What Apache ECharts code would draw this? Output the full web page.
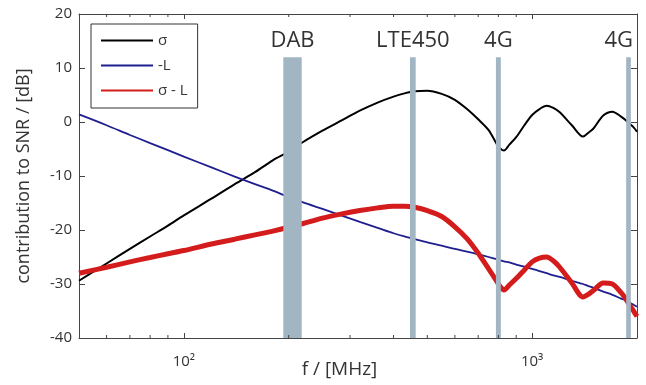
<!DOCTYPE html>
<html>
<head>
<meta charset="utf-8">
<script src="https://cdn.jsdelivr.net/npm/echarts@6/dist/echarts.min.js"></script>
<style>
  html, body { margin: 0; background: #fff; }
  #main { width: 646px; height: 385px; }
</style>
</head>
<body>
<div id="main"></div>
<script>
// frequencies in MHz
var freq = [50, 60, 70, 80, 90, 100, 120, 140, 160, 180, 200, 220, 250, 280, 320, 360, 400, 430, 460, 500,
  550, 600, 650, 700, 750, 790, 810, 830, 860, 900, 950, 1000, 1050, 1100, 1150, 1200, 1300, 1400, 1450, 1500,
  1600, 1700, 1800, 1850, 1900, 1950, 2000]
// sigma (black)
var sigma = [-29.4, -26.2, -23.5, -21.2, -19.2, -17.3, -14.2, -11.5, -9.3, -7.1, -5.5, -3.7, -1.6, 0.1, 2.1, 3.6, 4.7, 5.3, 5.7, 5.8,
  5.2, 4.1, 2.4, 0.5, -1.5, -4.0, -4.9, -5.3, -4.2, -2.8, -0.6, 1.3, 2.4, 3.0, 2.6, 1.8, -0.6, -2.7, -2.0, -1.2,
  1.2, 1.9, 1.0, 0.4, -0.3, -0.9, -1.8]
// -L (blue)
var loss = [1.4, -0.6, -2.4, -3.9, -5.2, -6.4, -8.4, -10.1, -11.5, -12.7, -13.9, -14.9, -16.1, -17.2, -18.5, -19.6, -20.6, -21.2, -21.7, -22.3,
  -22.9, -23.5, -24.0, -24.5, -25.0, -25.4, -25.6, -25.8, -26.0, -26.4, -26.8, -27.2, -27.6, -28.0, -28.4, -28.7, -29.4, -30.0, -30.4, -30.7,
  -31.4, -32.0, -32.7, -33.0, -33.4, -33.8, -34.2]
// sigma - L (red)
var snr = [-28.0, -26.9, -25.9, -25.1, -24.4, -23.8, -22.6, -21.7, -20.9, -20.2, -19.5, -18.8, -17.8, -17.1, -16.4, -15.9, -15.6, -15.6, -15.8, -16.4,
  -17.5, -19.4, -21.6, -24.3, -27.2, -29.4, -30.5, -31.1, -30.2, -29.0, -27.4, -25.9, -25.2, -25.0, -25.7, -26.9, -29.8, -32.4, -31.9, -31.2,
  -29.8, -30.0, -31.6, -32.6, -33.8, -34.9, -36.0]

// frequency bands
var bandNames = ['DAB', 'LTE450', '4G', '4G']
var bandFrom = [193, 446, 787, 1862]
var bandTo = [218, 463, 813, 1920]
var bandTop = 12

var minorTicks = [60, 70, 80, 90, 200, 300, 400, 500, 600, 700, 800, 900]
var yMin = -40
var yMax = 20

function pairs(ys) {
  return freq.map(function (f, i) { return [f, ys[i]] })
}

var font = '"Open Sans", "Noto Sans", sans-serif'
var axisColor = '#444'

var chart = echarts.init(document.getElementById('main'))

var option = {
  animation: false,
  grid: { left: 79, right: 9, top: 14, bottom: 47, outerBoundsMode: 'none' },
  legend: {
    data: ['σ', '-L', 'σ - L'],
    orient: 'vertical',
    left: 91,
    top: 24,
    itemWidth: 52,
    itemHeight: 14,
    itemGap: 10,
    padding: [9, 10, 10, 9],
    borderColor: '#333',
    borderWidth: 1,
    backgroundColor: '#fff',
    itemStyle: { opacity: 0 },
    textStyle: { fontFamily: font, fontSize: 15, color: '#333' }
  },
  xAxis: [{
    type: 'log',
    logBase: 10,
    min: 50,
    max: 2000,
    position: 'bottom',
    axisLine: { onZero: false, lineStyle: { color: axisColor } },
    axisTick: { inside: true, length: 5, lineStyle: { color: axisColor } },
    axisLabel: {
      margin: 16,
      fontFamily: font,
      fontSize: 15,
      color: '#333',
      formatter: function (v) {
        var e = Math.round(Math.log10(v))
        if (Math.abs(Math.log10(v) - e) > 1e-6) return ''
        return '10' + (e === 2 ? '²' : '³')
      }
    },
    splitLine: { show: false },
    name: 'f / [MHz]',
    nameLocation: 'middle',
    nameGap: 22,
    nameMoveOverlap: false,
    nameTextStyle: { fontFamily: font, fontSize: 19, color: '#333', padding: [0, 37, 0, 0] }
  }, {
    type: 'log',
    logBase: 10,
    min: 50,
    max: 2000,
    position: 'top',
    axisLine: { onZero: false, lineStyle: { color: axisColor } },
    axisTick: { inside: true, length: 5, lineStyle: { color: axisColor } },
    axisLabel: { show: false },
    splitLine: { show: false }
  }],
  yAxis: [{
    type: 'value',
    min: yMin,
    max: yMax,
    interval: 10,
    axisLine: { show: true, onZero: false, lineStyle: { color: axisColor } },
    axisTick: { show: true, inside: true, length: 6, lineStyle: { color: axisColor } },
    axisLabel: { margin: 7, fontFamily: font, fontSize: 15, color: '#333' },
    splitLine: { show: false },
    name: 'contribution to SNR / [dB]',
    nameLocation: 'middle',
    nameGap: 46,
    nameMoveOverlap: false,
    nameTextStyle: { fontFamily: font, fontSize: 18, color: '#333' }
  }, {
    type: 'value',
    min: yMin,
    max: yMax,
    interval: 10,
    position: 'right',
    axisLine: { show: true, onZero: false, lineStyle: { color: axisColor } },
    axisTick: { show: true, inside: true, length: 6, lineStyle: { color: axisColor } },
    axisLabel: { show: false },
    splitLine: { show: false }
  }],
  series: [{
    name: 'σ',
    type: 'line',
    symbol: 'none',
    smooth: 0.3,
    z: 2,
    lineStyle: { color: '#000', width: 2 },
    itemStyle: { color: '#000' },
    data: pairs(sigma)
  }, {
    name: '-L',
    type: 'line',
    symbol: 'none',
    smooth: 0.3,
    z: 2,
    lineStyle: { color: '#1f1f8f', width: 1.8 },
    itemStyle: { color: '#1f1f8f' },
    data: pairs(loss)
  }, {
    name: 'σ - L',
    type: 'line',
    symbol: 'none',
    smooth: 0.3,
    z: 2,
    lineStyle: { color: '#d41c1c', width: 5 },
    itemStyle: { color: '#d41c1c' },
    data: pairs(snr)
  }, {
    // shaded bands with their labels, drawn over the curves
    type: 'custom',
    z: 4,
    silent: true,
    data: bandFrom.map(function (f, i) { return [f, bandTo[i]] }),
    renderItem: function (params, api) {
      var p0 = api.coord([api.value(0), bandTop])
      var p1 = api.coord([api.value(1), yMin])
      var right = params.coordSys.x + params.coordSys.width
      var cx = (p0[0] + p1[0]) / 2
      var align = 'center'
      if (cx + 20 > right) {
        cx = right - 4
        align = 'right'
      }
      return {
        type: 'group',
        children: [{
          type: 'rect',
          shape: { x: p0[0], y: p0[1], width: p1[0] - p0[0], height: p1[1] - p0[1] },
          style: { fill: '#a2b5c3' }
        }, {
          type: 'text',
          style: {
            text: bandNames[params.dataIndex],
            x: cx,
            y: p0[1] - 16,
            align: align,
            verticalAlign: 'middle',
            fontFamily: font,
            fontSize: 22,
            fill: '#333'
          }
        }]
      }
    }
  }, {
    // minor ticks of the log axis, bottom and top
    type: 'custom',
    z: 5,
    silent: true,
    data: minorTicks.map(function (f) { return [f, yMin] }),
    renderItem: function (params, api) {
      var b = api.coord([api.value(0), yMin])
      var t = api.coord([api.value(0), yMax])
      var st = { stroke: axisColor, lineWidth: 1 }
      return {
        type: 'group',
        children: [
          { type: 'line', shape: { x1: b[0], y1: b[1], x2: b[0], y2: b[1] - 3 }, style: st },
          { type: 'line', shape: { x1: t[0], y1: t[1], x2: t[0], y2: t[1] + 3 }, style: st }
        ]
      }
    }
  }]
}

chart.setOption(option)
</script>
</body>
</html>
